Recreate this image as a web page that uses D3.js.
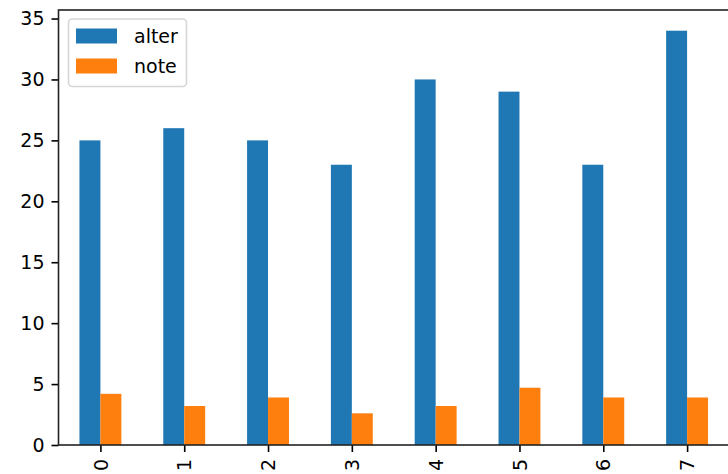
<!DOCTYPE html>
<html>
<head>
<meta charset="utf-8">
<script src="https://cdn.jsdelivr.net/npm/d3@7"></script>
<style>
  html, body { margin: 0; padding: 0; background: #fff; }
  svg { display: block; }
  text { font-family: "DejaVu Sans", sans-serif; fill: #000; }
</style>
</head>
<body>
<svg id="chart" width="728" height="474"></svg>
<script>
const categories = ["0", "1", "2", "3", "4", "5", "6", "7"];
const seriesNames = ["alter", "note"];
const alter = [25, 26, 25, 23, 30, 29, 23, 34];
const note = [4.2, 3.2, 3.9, 2.6, 3.2, 4.7, 3.9, 3.9];
const yTicks = [0, 5, 10, 15, 20, 25, 30, 35];
const colors = ["#1f77b4", "#ff7f0e"];

const svg = d3.select("#chart");
const mLeft = 58.5, mRight = 729, mTop = 10, mBottom = 445;
const fs = 19;

const x = d3.scaleLinear().domain([-0.5, categories.length - 0.5]).range([mLeft, mRight]);
const yMax = d3.max(alter.concat(note)) * 1.05;
const y = d3.scaleLinear().domain([0, yMax]).range([mBottom, mTop]);

const series = [alter, note];
const barW = 0.25;
series.forEach((vals, si) => {
  svg.append("g").selectAll("rect").data(vals).join("rect")
    .attr("x", (d, i) => x(i - barW + si * barW))
    .attr("width", (d, i) => x(i + barW) - x(i))
    .attr("y", d => y(d))
    .attr("height", d => y(0) - y(d))
    .attr("fill", colors[si]);
});

// Axes
const yAxis = d3.axisLeft(y).tickValues(yTicks).tickSize(7).tickPadding(7).tickFormat(d3.format("d"));
const gy = svg.append("g").attr("transform", `translate(${mLeft},0)`).call(yAxis);
gy.select(".domain").remove();
gy.selectAll("line").attr("stroke", "#000").attr("stroke-width", 1.6);
gy.selectAll("text").style("font-size", fs + "px").attr("fill", "#222");

const xAxis = d3.axisBottom(x).tickValues(d3.range(categories.length)).tickSize(7).tickFormat(i => categories[i]);
const gx = svg.append("g").attr("transform", `translate(0,${mBottom})`).call(xAxis);
gx.select(".domain").remove();
gx.selectAll("line").attr("stroke", "#000").attr("stroke-width", 1.6);
gx.selectAll("text")
  .style("font-size", fs + "px")
  .attr("fill", "#222")
  .attr("transform", "rotate(-90)")
  .attr("x", -14)
  .attr("y", 0)
  .attr("dy", "0.35em")
  .attr("text-anchor", "end");

// Spines
svg.append("rect")
  .attr("x", mLeft).attr("y", mTop)
  .attr("width", mRight - mLeft).attr("height", mBottom - mTop)
  .attr("fill", "none").attr("stroke", "#222").attr("stroke-width", 1.6);

// Legend
const lg = svg.append("g");
lg.append("rect")
  .attr("x", 68.5).attr("y", 19).attr("width", 118).attr("height", 67.5)
  .attr("rx", 4).attr("ry", 4)
  .attr("fill", "#fff").attr("fill-opacity", 0.8)
  .attr("stroke", "#d6d6d6").attr("stroke-width", 1.6);
seriesNames.forEach((name, i) => {
  const cy = 36 + i * 30;
  lg.append("rect").attr("x", 76).attr("y", cy - 7.5).attr("width", 41).attr("height", 15).attr("fill", colors[i]);
  lg.append("text").attr("x", 134).attr("y", cy).attr("dy", "0.35em")
    .attr("fill", "#222")
    .style("font-size", fs + "px").text(name);
});
</script>
</body>
</html>
